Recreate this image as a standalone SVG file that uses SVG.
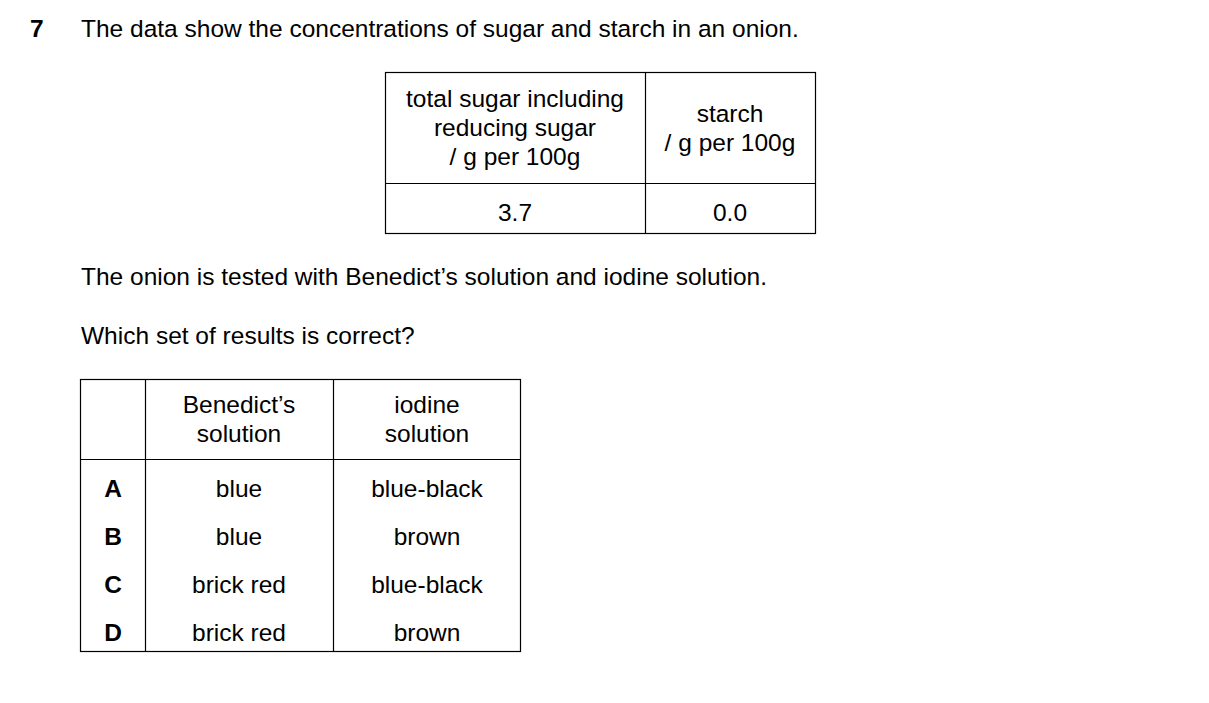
<svg xmlns="http://www.w3.org/2000/svg" width="1209" height="703" viewBox="0 0 1209 703">
<style>
text{font-family:"Liberation Sans",Arial,sans-serif;font-size:24.5px;fill:#000}
.c{text-anchor:middle}
.b{font-weight:bold}
line{stroke:#000;stroke-width:1.2}
.t{fill:none;stroke:#000;stroke-width:1.2}
</style>
<rect width="1209" height="703" fill="#fff"/>
<text x="30" y="37" class="b">7</text>
<text x="81" y="37">The data show the concentrations of sugar and starch in an onion.</text>
<g id="table1">
<rect class="t" x="385.5" y="72.5" width="430" height="161"/>
<line x1="645.5" y1="72" x2="645.5" y2="234"/>
<line x1="385" y1="183.5" x2="816" y2="183.5"/>
<text x="515" y="107" class="c">total sugar including</text>
<text x="515" y="136" class="c">reducing sugar</text>
<text x="515" y="165" class="c">/ g per 100g</text>
<text x="730" y="122" class="c">starch</text>
<text x="730" y="151" class="c">/ g per 100g</text>
<text x="515" y="221" class="c">3.7</text>
<text x="730" y="221" class="c">0.0</text>
</g>
<text x="81" y="285">The onion is tested with Benedict’s solution and iodine solution.</text>
<text x="81" y="344">Which set of results is correct?</text>
<g id="table2">
<rect class="t" x="80.5" y="379.5" width="440" height="272"/>
<line x1="145.5" y1="379" x2="145.5" y2="652"/>
<line x1="333.5" y1="379" x2="333.5" y2="652"/>
<line x1="80" y1="459.5" x2="521" y2="459.5"/>
<text x="239" y="413" class="c">Benedict’s</text>
<text x="239" y="442" class="c">solution</text>
<text x="427" y="413" class="c">iodine</text>
<text x="427" y="442" class="c">solution</text>
<text x="113" y="497" class="c b">A</text>
<text x="113" y="545" class="c b">B</text>
<text x="113" y="593" class="c b">C</text>
<text x="113" y="641" class="c b">D</text>
<text x="239" y="497" class="c">blue</text>
<text x="239" y="545" class="c">blue</text>
<text x="239" y="593" class="c">brick red</text>
<text x="239" y="641" class="c">brick red</text>
<text x="427" y="497" class="c">blue-black</text>
<text x="427" y="545" class="c">brown</text>
<text x="427" y="593" class="c">blue-black</text>
<text x="427" y="641" class="c">brown</text>
</g>
</svg>
